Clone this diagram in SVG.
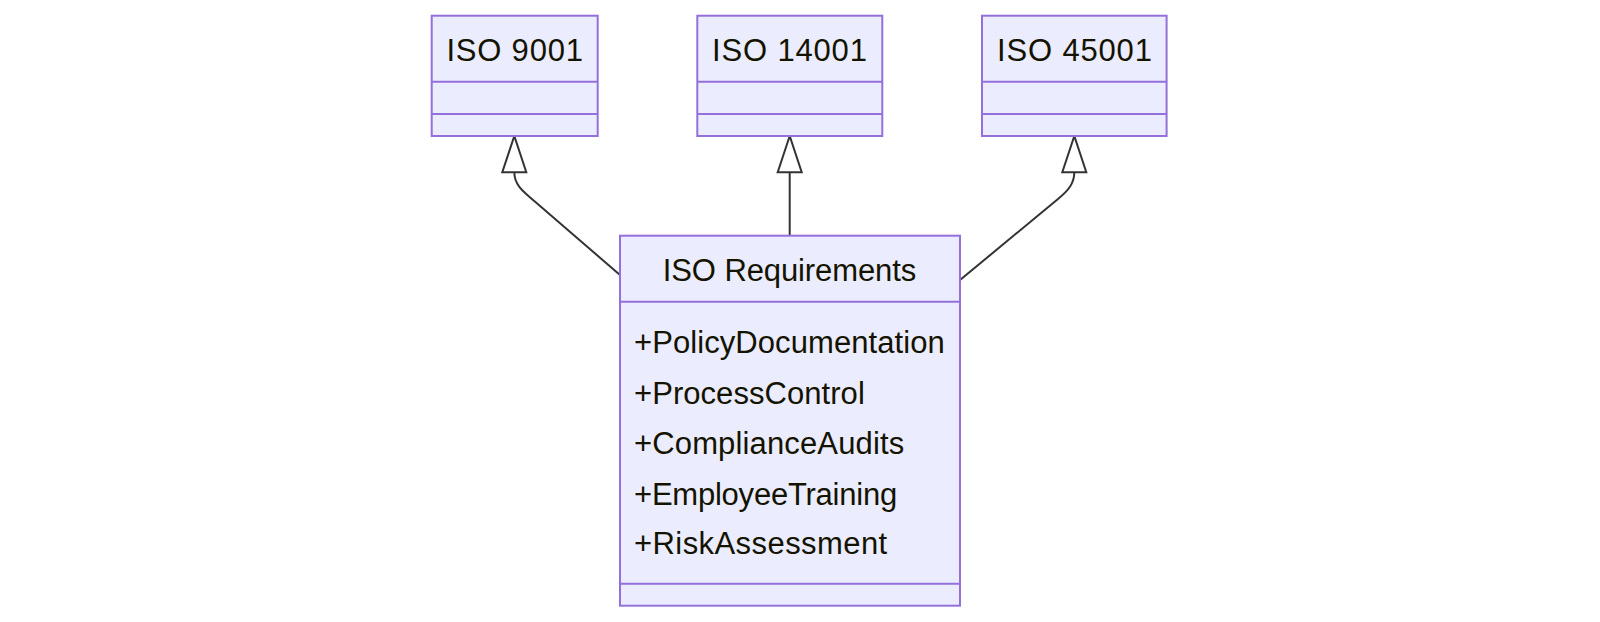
<svg xmlns="http://www.w3.org/2000/svg" width="1600" height="622" viewBox="0 0 1600 622">
<style>
.box{fill:#ECECFF;stroke:#9370DB;stroke-width:2}
.div{stroke:#9370DB;stroke-width:2;fill:none}
.t{font-family:"Liberation Sans",Arial,sans-serif;font-size:31px;fill:#131300}
.c{text-anchor:middle}
.edge{fill:none;stroke:#333333;stroke-width:2}
.head{fill:#FFFFFF;stroke:#333333;stroke-width:2;stroke-linejoin:miter}
</style>
<rect width="1600" height="622" fill="#FFFFFF"/>
<g id="connectors">
<path class="edge" d="M514.3,172.3 C514.3,184 521,190 536,202.5 L620,275"/>
<polygon class="head" points="514.3,136 502.3,172.3 526.3,172.3"/>
<path class="edge" d="M789.7,172.3 L789.7,235.7"/>
<polygon class="head" points="789.7,136 777.7,172.3 801.7,172.3"/>
<path class="edge" d="M1074.3,172.3 C1074.3,183 1069,190 1058,199 L960,280"/>
<polygon class="head" points="1074.3,136 1062.3,172.3 1086.3,172.3"/>
</g>
<g id="iso9001">
<rect class="box" x="431.7" y="15.7" width="166" height="120.3"/>
<line class="div" x1="431.7" y1="81.7" x2="597.7" y2="81.7"/>
<line class="div" x1="431.7" y1="114" x2="597.7" y2="114"/>
<text class="t c" x="514.7" y="61" textLength="136.5">ISO 9001</text>
</g>
<g id="iso14001">
<rect class="box" x="697.3" y="15.7" width="185" height="120.3"/>
<line class="div" x1="697.3" y1="81.7" x2="882.3" y2="81.7"/>
<line class="div" x1="697.3" y1="114" x2="882.3" y2="114"/>
<text class="t c" x="789.5" y="61" textLength="154.8">ISO 14001</text>
</g>
<g id="iso45001">
<rect class="box" x="982" y="15.7" width="184.6" height="120.3"/>
<line class="div" x1="982" y1="81.7" x2="1166.6" y2="81.7"/>
<line class="div" x1="982" y1="114" x2="1166.6" y2="114"/>
<text class="t c" x="1074.5" y="61" textLength="154.8">ISO 45001</text>
</g>
<g id="isoRequirements">
<rect class="box" x="620" y="235.7" width="340" height="370"/>
<line class="div" x1="620" y1="301.7" x2="960" y2="301.7"/>
<line class="div" x1="620" y1="583.7" x2="960" y2="583.7"/>
<text class="t c" x="789.5" y="281" textLength="253.5">ISO Requirements</text>
<text class="t" x="634" y="353.3" textLength="310.8">+PolicyDocumentation</text>
<text class="t" x="634" y="404" textLength="230.8">+ProcessControl</text>
<text class="t" x="634" y="454.3" textLength="270.2">+ComplianceAudits</text>
<text class="t" x="634" y="504.7" textLength="263.2">+EmployeeTraining</text>
<text class="t" x="634" y="554.3" textLength="253.2">+RiskAssessment</text>
</g>
</svg>
